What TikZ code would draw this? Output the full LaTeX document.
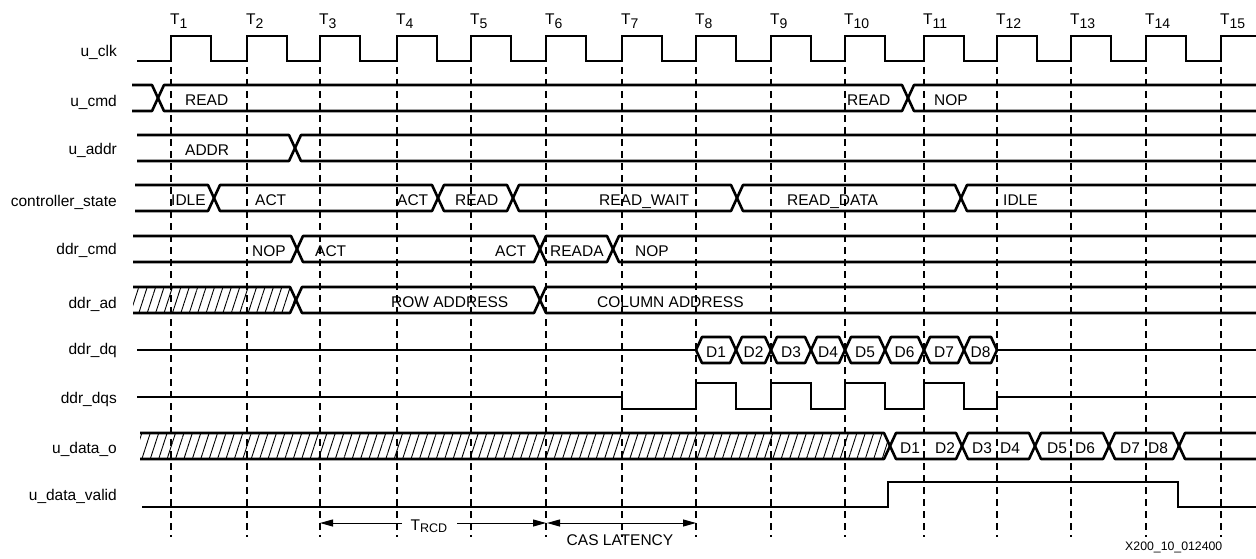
\documentclass[tikz,border=0pt]{standalone}
\usepackage{fontspec}
\setmainfont{Liberation Sans}
\usetikzlibrary{arrows.meta,patterns.meta}

\newcommand{\clkrise}{171,247,320,397,471,546,622,696,771,845,924,997,1071,1146,1221}
% bus segment from #2 to #3 on row #4
\newcommand{\busseg}[4][]{%
  \draw[bus,#1] (#2,#4) -- ({#2+6},{#4-13}) -- ({#3-6},{#4-13}) -- (#3,#4) -- ({#3-6},{#4+13}) -- ({#2+6},{#4+13}) -- cycle;}
\newcommand{\busopenl}[4][]{%
  \draw[bus,#1] (#2,{#4-13}) -- ({#3-6},{#4-13}) -- (#3,#4) -- ({#3-6},{#4+13}) -- (#2,{#4+13});}
\newcommand{\busopenr}[4][]{%
  \draw[bus,#1] (#3,{#4-13}) -- ({#2+6},{#4-13}) -- (#2,#4) -- ({#2+6},{#4+13}) -- (#3,{#4+13});}

\begin{document}
\begin{tikzpicture}[x=1pt,y=-1pt,
    sig/.style={line width=2.6pt},
    bus/.style={line width=2.6pt,line join=round},
    hatch/.style={pattern={Lines[angle=72,distance=8pt,line width=0.9pt]}},
    tline/.style={line width=1.1pt,dash pattern=on 7pt off 5pt},
    signame/.style={anchor=base east,inner sep=0pt,font=\fontsize{15.5}{18}\selectfont},
    vtext/.style={anchor=base west,inner sep=0pt,font=\fontsize{15.5}{18}\selectfont},
    dimline/.style={line width=1pt,-{Triangle[length=13pt,width=7pt]}},
    dimboth/.style={line width=1pt,{Triangle[length=13pt,width=7pt]}-{Triangle[length=13pt,width=7pt]}}]
    \useasboundingbox (0,0) rectangle (1256,559);

    % clock ticks
    \foreach \r [count=\i] in \clkrise {
        \node[vtext] (t\i) at ({\r-1},25) {T\raisebox{-3.5pt}{\fontsize{14}{14}\selectfont\i}};
        \draw[tline] (\r,67) -- (\r,537);
    }

    % signal names
    \foreach \n/\s/\y in {lclk/u\_clk/57, lcmd/u\_cmd/107, laddr/u\_addr/155,
        lstate/controller\_state/206, ldcmd/ddr\_cmd/254, lad/ddr\_ad/308,
        ldq/ddr\_dq/354, ldqs/ddr\_dqs/403, ldata/u\_data\_o/453, lvalid/u\_data\_valid/500}
        \node[signame] (\n) at (117,\y) {\s};

    % u_clk
    \draw[sig] (137,61) foreach \r in {171,247,320,397,471,546,622,696,771,845,924,997,1071,1146}
        { -- (\r,61) -- (\r,36) -- ({\r+40},36) -- ({\r+40},61) } -- (1221,61) -- (1221,36) -- (1256,36);

    % u_cmd
    \busopenl{132}{158}{98}
    \busseg{158}{908}{98}
    \busopenr{908}{1256}{98}
    \node[vtext] (cmdread) at (185,105.5) {READ};
    \node[vtext] (cmdreadb) at (847,105.5) {READ};
    \node[vtext] (cmdnop) at (934,105.5) {NOP};

    % u_addr
    \busopenl{137}{295}{148}
    \busopenr{295}{1256}{148}
    \node[vtext] (addr) at (185,155.5) {ADDR};

    % controller_state
    \busopenl{135}{214}{198}
    \foreach \a/\b in {214/438,438/513,513/737,737/961} \busseg{\a}{\b}{198};
    \busopenr{961}{1256}{198}
    \node[vtext] (stidle) at (171,205.5) {IDLE};
    \node[vtext] (stact) at (255,205.5) {ACT};
    \node[vtext] (stactb) at (397,205.5) {ACT};
    \node[vtext] (stread) at (455,205.5) {READ};
    \node[vtext] (stwait) at (599,205.5) {READ\_WAIT};
    \node[vtext] (stdata) at (787,205.5) {READ\_DATA};
    \node[vtext] (stidleb) at (1003,205.5) {IDLE};

    % ddr_cmd
    \busopenl{133}{297}{249}
    \busseg{297}{540}{249}
    \busseg{540}{613}{249}
    \busopenr{613}{1256}{249}
    \node[vtext] (dcnop) at (252,256.5) {NOP};
    \node[vtext] (dcact) at (315,256.5) {ACT};
    \node[vtext] (dcactb) at (495,256.5) {ACT};
    \node[vtext] (dcreada) at (550,256.5) {READA};
    \node[vtext] (dcnopb) at (635,256.5) {NOP};

    % ddr_ad
    \busopenl[hatch]{133}{296}{300}
    \busseg{296}{540}{300}
    \busopenr{540}{1256}{300}
    \node[vtext] (rowad) at (391,307.5) {ROW ADDRESS};
    \node[vtext] (colad) at (597,307.5) {COLUMN ADDRESS};

    % ddr_dq
    \draw[sig] (137,350) -- (696,350);
    \foreach \a/\b/\d in {696/736/1,736/771/2,771/811/3,811/845/4,845/885/5,885/924/6,924/964/7,964/997/8} {
        \busseg{\a}{\b}{350}
        \node[vtext,anchor=base] (dq\d) at ({(\a+\b)/2},357.5) {D\d};
    }
    \draw[sig] (997,350) -- (1256,350);

    % ddr_dqs
    \draw[sig] (137,397) -- (622,397) -- (622,409) foreach \r in {696,771,845,924}
        { -- (\r,409) -- (\r,383) -- ({\r+40},383) -- ({\r+40},409) } -- (997,409) -- (997,397) -- (1256,397);

    % u_data_o
    \busopenl[hatch]{140}{890}{446}
    \foreach \a/\b in {890/962,962/1035,1035/1109,1109/1179} \busseg{\a}{\b}{446};
    \busopenr{1179}{1256}{446}
    \foreach \x/\d in {900/1,935/2,972/3,1000/4,1047/5,1075/6,1120/7,1148/8}
        \node[vtext] (do\d) at (\x,453.5) {D\d};

    % u_data_valid
    \draw[sig] (142,507) -- (888,507) -- (888,482) -- (1178,482) -- (1178,507) -- (1256,507);

    % timing
    \coordinate (rcda) at (320,523);
    \coordinate (rcdl) at (402,523);
    \coordinate (rcdr) at (457,523);
    \coordinate (rcdb) at (546,523);
    \coordinate (casa) at (547,523);
    \coordinate (casb) at (696,523);
    \node[vtext,anchor=base] (trcd) at (429,530) {T\raisebox{-2pt}{\fontsize{12.5}{13}\selectfont RCD}};
    \draw[dimline] (rcdl) -- (rcda);
    \draw[dimline] (rcdr) -- (rcdb);
    \draw[dimboth] (casa) -- (casb);
    \node[vtext,anchor=base] (caslat) at (620,545) {CAS LATENCY};

    \node[anchor=base west,inner sep=0pt,font=\fontsize{12.3}{14}\selectfont] (figid) at (1125,550) {X200\_10\_012400};
\end{tikzpicture}
\end{document}
